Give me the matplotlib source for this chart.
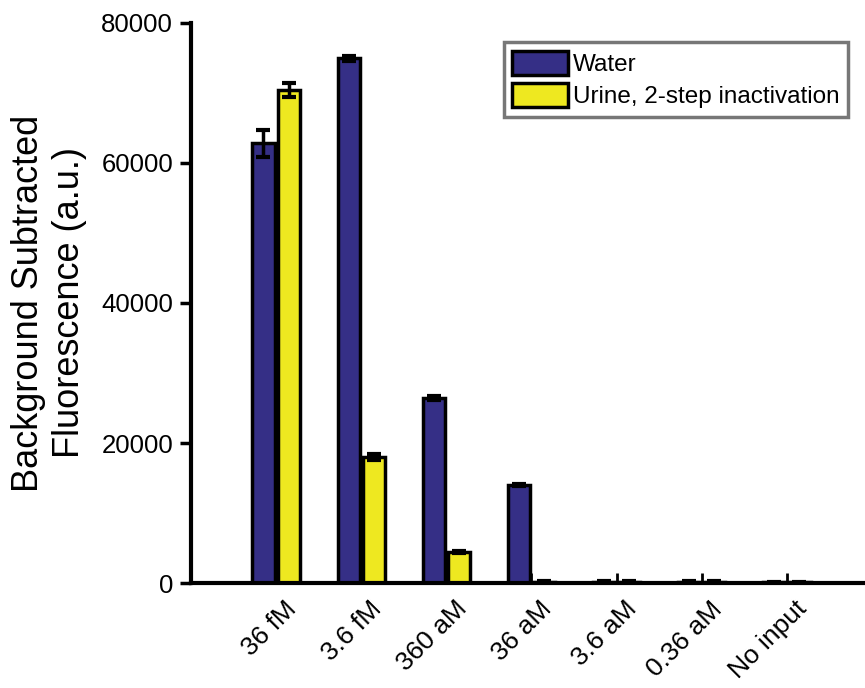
import numpy as np
import matplotlib.pyplot as plt
import matplotlib.transforms as mtransforms

plt.rcParams['font.family'] = ['Liberation Sans', 'DejaVu Sans']

concentrations = ['36 fM', '3.6 fM', '360 aM', '36 aM', '3.6 aM', '0.36 aM', 'No input']
water = [62800, 74950, 26400, 14000, 150, 150, 120]
water_err = [1900, 400, 250, 200, 80, 80, 80]
urine = [70400, 18000, 4400, 200, 150, 150, 120]
urine_err = [1000, 450, 150, 80, 80, 80, 80]

water_color = '#352F86'
urine_color = '#EEE820'

fig = plt.figure(figsize=(8.65, 6.88), dpi=100)
ax = fig.add_axes([0.221, 0.1526, 0.779, 0.814])

x = np.arange(1, len(concentrations) + 1)
w = 0.26
off = 0.15
err_kw = dict(elinewidth=2.5, capsize=5, capthick=3, ecolor='black')

ax.bar(x - off, water, w, yerr=water_err, color=water_color, edgecolor='black',
       linewidth=2.5, error_kw=err_kw, label='Water', zorder=2)
ax.bar(x + off, urine, w, yerr=urine_err, color=urine_color, edgecolor='black',
       linewidth=2.5, error_kw=err_kw, label='Urine, 2-step inactivation', zorder=2)

ax.set_xlim(0, 7.92)
ax.set_ylim(0, 80000)
ax.set_yticks([0, 20000, 40000, 60000, 80000])
ax.set_xticks(x)
ax.set_xticklabels(concentrations, rotation=45, ha='right', rotation_mode='anchor',
                   fontsize=19)
ax.tick_params(axis='y', direction='out', length=8, width=2.5, labelsize=18.5, pad=5)
ax.tick_params(axis='x', direction='in', length=7, width=2, pad=10)

# nudge the slanted labels a little to the right
shift = mtransforms.ScaledTranslation(6 / 72, 0, fig.dpi_scale_trans)
for lab in ax.get_xticklabels():
    lab.set_transform(lab.get_transform() + shift)

for side in ['top', 'right']:
    ax.spines[side].set_visible(False)
for side in ['left', 'bottom']:
    ax.spines[side].set_linewidth(3)

ax.set_ylabel('Background Subtracted\nFluorescence (a.u.)', fontsize=26,
              linespacing=1.25, labelpad=10)

leg = ax.legend(loc='upper right', bbox_to_anchor=(0.975, 0.966), fontsize=17.5,
                frameon=True, fancybox=False, handlelength=2.3, handleheight=1.15,
                handletextpad=0.2, borderpad=0.35, labelspacing=0.3, borderaxespad=0)
leg.get_frame().set_edgecolor('#555555')
leg.get_frame().set_linewidth(2.5)

fig.savefig('out.png', dpi=100)
